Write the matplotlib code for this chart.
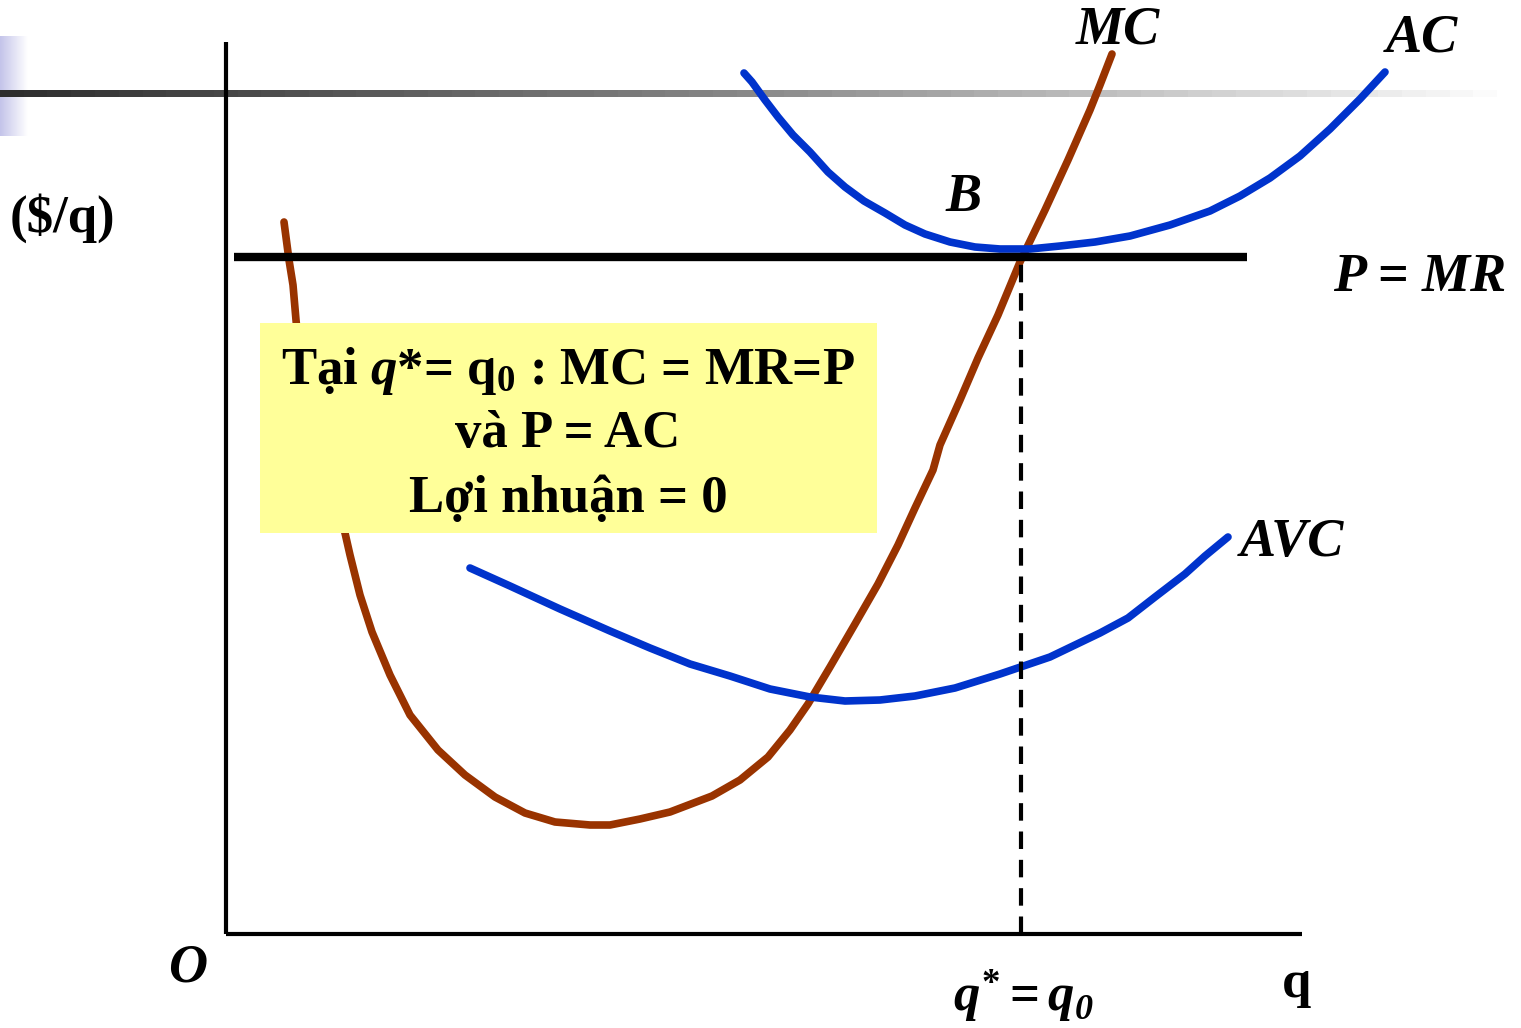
import numpy as np
import matplotlib

matplotlib.use("Agg")
import matplotlib.pyplot as plt
from matplotlib.patches import Rectangle

# units: q along the horizontal axis, $/q up the vertical axis (origin at O)
MC_Q = [58, 63, 67, 70, 74, 89, 104, 119, 124, 134, 146, 164, 184, 212, 239, 269, 299, 329,
        364, 384, 414, 444, 486, 514, 542, 564, 582, 604, 629, 652, 672, 689, 707, 714, 734,
        752, 772, 794, 819, 842, 864, 874, 886]
MC_P = [712, 674, 649, 614, 574, 514, 454, 401, 379, 339, 302, 259, 219, 184, 159, 137, 121, 112,
        109, 109, 115, 122, 138, 154, 177, 204, 230, 267, 310, 350, 389, 426, 464, 489, 534,
        576, 619, 672, 724, 774, 824, 849, 880]

AC_Q = [518, 526, 539, 552, 567, 584, 602, 619, 638, 659, 679, 699, 724, 749, 774, 804, 834,
        869, 904, 944, 984, 1014, 1044, 1074, 1104, 1134, 1159]
AC_P = [861, 852, 834, 817, 799, 782, 762, 747, 733, 721, 709, 700, 692, 687, 685, 685, 688,
        692, 698, 709, 723, 738, 756, 778, 805, 835, 862]

AVC_Q = [244, 284, 334, 384, 424, 464, 504, 544, 584, 619, 654, 689, 729, 774, 824, 874, 902,
         929, 959, 979, 1002]
AVC_P = [366, 348, 325, 303, 286, 270, 258, 245, 237, 233, 234, 238, 246, 260, 277, 301, 316,
         337, 360, 378, 397]

PRICE = 677
Q_STAR = 795
PRICE_Q = [8, 1021]

BOX_LINES = ["Tại $\\mathit{q}$*= q$_0$ : MC = MR=P", "và P = AC", "Lợi nhuận = 0"]

BROWN = "#993300"
BLUE = "#0033cc"

plt.rcParams["font.family"] = ["Liberation Serif", "DejaVu Serif"]
plt.rcParams["font.weight"] = "bold"
plt.rcParams["mathtext.fontset"] = "custom"
plt.rcParams["mathtext.rm"] = "Liberation Serif:bold"
plt.rcParams["mathtext.it"] = "Liberation Serif:italic:bold"
plt.rcParams["mathtext.bf"] = "Liberation Serif:bold"

fig = plt.figure(figsize=(15.21, 10.28), dpi=100)
ax = fig.add_axes([0, 0, 1, 1])
ax.set_xlim(-226, 1295)
ax.set_ylim(-94, 934)
ax.axis("off")

# slide decoration: lavender tab and fading grey rule
tab = np.linspace(0, 1, 64)[None, :]
ax.imshow(tab, cmap=matplotlib.colors.LinearSegmentedColormap.from_list("tab", ["#c4c4ea", "#ffffff"]),
          extent=(-226, -198, 798, 898), aspect="auto", zorder=0)
ax.imshow(tab, cmap=matplotlib.colors.LinearSegmentedColormap.from_list("rule", ["#2e2e2e", "#8a8a8a", "#ffffff"]),
          extent=(-226, 1295, 836.5, 843.5), aspect="auto", zorder=1)

# axes
ax.plot([0, 0], [0, 892], color="black", lw=3, solid_capstyle="butt", zorder=3)
ax.plot([0, 1076], [0, 0], color="black", lw=3, solid_capstyle="butt", zorder=3)

ax.plot(MC_Q, MC_P, color=BROWN, lw=5.5, solid_capstyle="round", zorder=2)
ax.plot(AC_Q, AC_P, color=BLUE, lw=5.5, solid_capstyle="round", zorder=2)
ax.plot(AVC_Q, AVC_P, color=BLUE, lw=5.5, solid_capstyle="round", zorder=2)

ax.plot(PRICE_Q, [PRICE, PRICE], color="black", lw=6, solid_capstyle="butt", zorder=3)
ax.plot([Q_STAR, Q_STAR], [0, PRICE], color="black", lw=3, dashes=(4.2, 2.6), zorder=3)

ax.add_patch(Rectangle((34, 401), 617, 210, facecolor="#ffff99", edgecolor="none", zorder=4))
for line, y in zip(BOX_LINES, [563, 500, 435]):
    ax.text(342, y, line, ha="center", va="center", fontsize=38, fontweight="bold", zorder=5)

lab = dict(fontsize=39, fontweight="bold", ha="center", va="center")
ax.text(892, 904, "MC", style="italic", **lab)
ax.text(1196, 896, "AC", style="italic", **lab)
ax.text(738, 736, "B", style="italic", **lab)
ax.text(1194, 656, "P = MR", style="italic", **lab)
ax.text(1066, 391, "AVC", style="italic", **lab)
ax.text(-164, 716, "($/q)", fontsize=38, fontweight="bold", ha="center", va="center")
ax.text(-38, -34, "O", style="italic", **lab)
ax.text(1071, -50, "q", fontsize=38, fontweight="bold", ha="center", va="center")
qs = ax.text(788, -62, "$q^{*} = q$", fontsize=38, ha="center", va="center")
ax.annotate("0", xy=(1, 0), xycoords=qs, xytext=(0, -2), textcoords="offset points",
            fontsize=26, style="italic", fontweight="bold", ha="left", va="bottom")

fig.savefig("out.png", dpi=100)
